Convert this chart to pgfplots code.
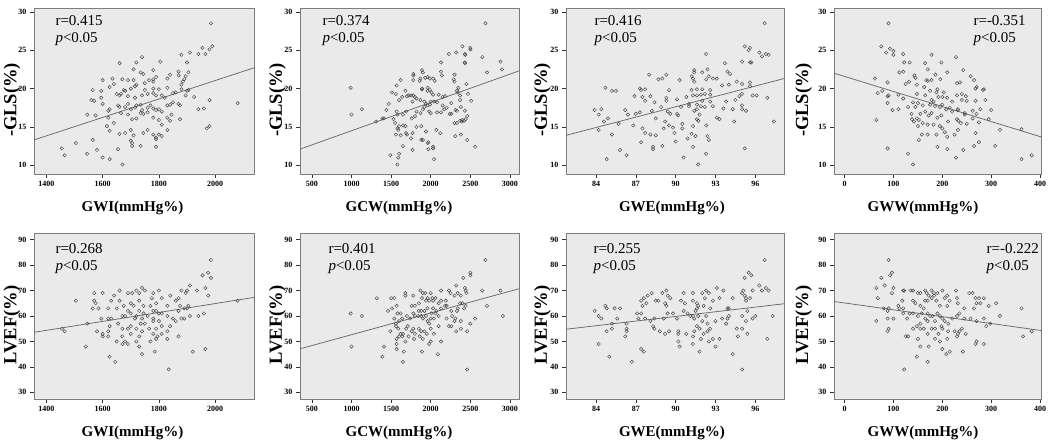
\documentclass[border=0pt]{standalone}
\usepackage{fontspec}
\setmainfont{Liberation Serif}
\usepackage{pgfplots}
\pgfplotsset{compat=1.18}
\definecolor{panelbg}{RGB}{234,234,234}
\definecolor{ptcol}{RGB}{70,70,70}
\definecolor{fitcol}{RGB}{105,105,105}
\definecolor{framecol}{RGB}{125,125,125}
\pgfplotsset{
  panel/.style={
    scale only axis, height=166pt,
    axis background/.style={fill=panelbg},
    axis line style={framecol, line width=0.8pt},
    xtick pos=bottom, ytick pos=left,
    tick align=outside, major tick length=4pt,
    tick style={black!80, line width=0.6pt},
    ticklabel style={font=\bfseries\fontsize{8}{8}\selectfont},
    /pgf/number format/assume math mode=true,
    /pgf/number format/1000 sep={},
    every axis x label/.style={anchor=base, yshift=-38pt, font=\bfseries\fontsize{15}{15}\selectfont},
    every axis y label/.style={rotate=90, anchor=center, font=\bfseries\fontsize{18.5}{18.5}\selectfont},
  },
  gls/.style={ymin=8.86, ymax=30.5, ytick={10,15,20,25,30}, ylabel={-GLS(\%)}},
  lvef/.style={ymin=27.4, ymax=92.6, ytick={30,40,50,60,70,80,90}, ylabel={LVEF(\%)}},
  cA/.style={width=220pt, xmin=1356, xmax=2138, xtick={1400,1600,1800,2000}, xlabel={GWI(mmHg\%)},
    x label style={at={(axis description cs:0.448,0)}}, y label style={at={(axis description cs:-0.1,0.446)}}},
  cB/.style={width=219pt, xmin=350, xmax=3114, xtick={500,1000,1500,2000,2500,3000}, xlabel={GCW(mmHg\%)},
    x label style={at={(axis description cs:0.452,0)}}, y label style={at={(axis description cs:-0.103,0.446)}}},
  cC/.style={width=218pt, xmin=81.74, xmax=98.16, xtick={84,87,90,93,96}, xlabel={GWE(mmHg\%)},
    x label style={at={(axis description cs:0.486,0)}}, y label style={at={(axis description cs:-0.108,0.446)}}},
  cD/.style={width=207pt, xmin=-21.7, xmax=402, xtick={0,100,200,300,400}, xlabel={GWW(mmHg\%)},
    x label style={at={(axis description cs:0.43,0)}}, y label style={at={(axis description cs:-0.147,0.446)}}},
  pts/.style={only marks, mark=o, mark size=1.7pt, mark options={ptcol, line width=0.45pt}},
  fit/.style={fitcol, line width=0.75pt, no marks},
}
\newcommand{\ann}[4]{%
  \node[anchor=base west, font=\fontsize{15}{15}\selectfont, xshift=#1, yshift=#2] at (rel axis cs:0,1) {#3};
  \node[anchor=base west, font=\fontsize{15}{15}\selectfont, xshift=#1, yshift=#2-17pt] at (rel axis cs:0,1) {#4};}
\begin{document}
\begin{tikzpicture}
\path[use as bounding box] (0,0) rectangle (1056pt,446pt);
% ---------- Row 1 ----------
\begin{axis}[panel, gls, cA, at={(34pt,272pt)}, anchor=south west]
\addplot[pts] coordinates {
(1985,28.5)(1990,25.5)(1980,25.1)(1955,25.3)(1965,24.5)(1940,24.5)(1910,24.7)(1880,24.4)
(1740,24.1)(1720,23.4)(1660,23.3)(1805,23.5)(1900,23.4)
(1710,22.5)(1780,22.4)(1735,22.1)(1745,21.9)(1870,22.2)(1870,21.7)(1905,22.1)(1895,21.6)(1830,21.3)(1840,21.8)
(1600,21.1)(1635,21.3)(1670,21.2)(1690,21.1)(1710,21.1)(1720,20.5)(1750,20.7)(1765,21.1)(1780,21.2)(1790,21.5)(1780,20.9)(1885,20.9)(1890,21.2)
(1565,19.8)(1595,19.7)(1625,20.2)(1640,20.6)(1675,19.8)(1680,19.7)(1700,20.0)(1715,20.3)(1750,19.8)(1780,20.0)(1800,19.9)(1830,20.1)(1880,19.9)(1900,19.7)(1905,19.8)(1880,20.5)
(1560,18.5)(1570,18.4)(1600,18.0)(1595,18.8)(1650,19.3)(1665,19.3)(1660,19.1)(1690,19.0)(1715,18.8)(1740,19.1)(1760,19.3)(1780,19.4)(1790,19.1)(1810,19.1)(1820,18.8)(1850,19.4)(1860,19.5)(1895,19.1)(1925,18.9)(1980,18.5)(2080,18.1)
(1575,16.5)(1620,17.1)(1625,17.3)(1655,17.8)(1660,17.6)(1680,17.6)(1690,18.0)(1700,17.3)(1715,17.5)(1720,17.8)(1735,17.9)(1740,17.2)(1760,17.5)(1770,17.8)(1780,17.4)(1790,17.2)(1800,17.3)(1810,17.0)(1830,17.8)(1840,17.9)(1850,18.2)(1870,18.0)(1875,17.8)(1940,17.3)(1960,17.4)
(1545,16.6)(1620,16.2)(1640,15.5)(1665,16.8)(1690,16.6)(1705,16.0)(1720,16.1)(1735,16.8)(1745,16.7)(1760,16.9)(1780,16.2)(1800,15.9)(1810,15.3)(1830,16.2)(1840,15.8)(1845,16.6)(1875,16.0)
(1615,15.1)(1625,14.5)(1660,14.1)(1680,14.2)(1700,14.6)(1710,13.9)(1745,14.2)(1760,14.6)(1780,14.0)(1790,13.4)(1790,13.6)(1800,14.0)(1810,13.8)(1830,14.6)(1970,14.8)(1980,15.1)
(1565,13.3)(1700,13.2)(1705,12.9)(1705,12.5)(1735,12.5)(1790,12.4)(1580,12.0)(1655,12.1)(1455,12.2)(1465,11.3)(1505,12.9)(1545,11.5)(1600,11.0)(1625,10.8)(1670,10.1)
};
\addplot[fit] coordinates {(1356,13.3)(2138,22.7)};
\ann{18pt}{-18pt}{r=0.415}{\textit{p}<0.05}
\end{axis}
\begin{axis}[panel, gls, cB, at={(300pt,272pt)}, anchor=south west]
\addplot[pts] coordinates {
(2690,28.5)(2400,25.5)(2500,25.3)(2500,25.1)(2430,24.5)(2435,24.4)(2230,24.5)(2320,24.7)(2650,24.1)
(2430,23.4)(2430,23.3)(2130,23.4)(2880,23.5)(2900,22.5)(2710,22.1)
(1890,22.4)(1900,22.1)(1780,21.9)(1780,21.7)(1780,21.1)(1620,21.1)(1860,21.0)(1870,21.3)(1930,21.4)(1960,21.5)(1990,21.3)(2030,21.3)(2050,21.0)(2130,22.2)(2140,21.7)(2300,21.8)(2290,21.2)(2300,20.9)(2450,20.6)(2350,20.1)
(990,20.1)(1570,20.4)(1510,19.5)(1560,19.3)(1680,19.7)(1720,19.1)(1750,19.1)(1780,19.1)(1800,18.9)(1890,20.0)(1890,19.9)(1960,20.1)(1960,19.7)(1990,19.8)(2010,19.5)(2030,19.2)(2100,19.2)(2180,19.0)(2340,19.5)(2370,19.1)(2470,19.3)(2330,19.7)
(1470,18.0)(1600,18.5)(1640,18.9)(1700,19.0)(1770,18.3)(1820,18.7)(1870,18.5)(1920,18.3)(1940,18.0)(1960,17.8)(1990,17.9)(2000,18.3)(2040,18.3)(2080,18.2)(2150,18.9)(2150,17.8)(2200,17.5)(2260,18.1)(2370,18.5)(2380,17.6)(2430,17.1)(2510,18.4)
(1000,16.6)(1130,17.3)(1390,16.1)(1410,16.1)(1440,17.2)(1570,17.0)(1580,16.6)(1650,16.6)(1690,17.0)(1760,16.1)(1800,16.4)(1820,17.0)(1870,16.8)(1900,17.3)(1920,17.6)(1980,17.0)(2000,16.8)(2080,16.9)(2130,16.9)(2170,17.3)(2240,16.7)(2260,16.7)(2310,17.2)(2330,17.1)(2460,16.4)(2300,15.5)
(1310,15.7)(1530,16.0)(1550,15.5)(1580,14.8)(1590,14.6)(1600,15.1)(1650,15.2)(1680,15.1)(1690,14.2)(1770,14.2)(1820,15.0)(1880,15.1)(1940,14.4)(2070,14.6)(2120,14.2)(2330,15.5)(2390,15.7)(2420,15.8)(2440,16.0)(2400,15.9)(2370,15.8)
(1560,14.0)(1620,13.9)(1700,14.0)(1750,13.5)(1880,13.3)(1900,13.3)(1960,12.9)(1970,13.0)(2030,12.4)(2030,12.2)(1970,12.1)(1650,12.5)(1770,12.0)(2310,13.8)(2380,14.0)(2460,13.3)(2560,12.4)
(1490,11.3)(1600,11.5)(1590,11.0)(1580,10.1)(2040,10.8)
};
\addplot[fit] coordinates {(350,12.1)(3114,22.3)};
\ann{19pt}{-18pt}{r=0.374}{\textit{p}<0.05}
\end{axis}
\begin{axis}[panel, gls, cC, at={(566pt,272pt)}, anchor=south west]
\addplot[pts] coordinates {
(96.7,28.5)(95.2,25.5)(95.6,25.3)(95.5,25.0)(96.3,24.7)(96.5,24.2)(96.8,24.5)(97.0,24.4)(95.0,23.5)(95.6,23.4)(95.7,23.4)(93.7,23.3)(92.3,24.5)
(92.4,22.5)(91.4,22.4)(91.4,22.1)(92.0,22.1)(93.9,22.2)(94.1,21.9)(88.0,21.8)(89.3,21.8)(88.7,21.2)(89.0,21.3)(90.3,21.1)(91.2,21.6)(91.3,21.3)(91.4,20.9)(92.8,21.3)(93.1,21.3)(92.5,21.6)(92.3,21.2)
(84.7,20.1)(85.2,19.7)(85.5,19.7)(87.3,20.0)(87.4,19.8)(87.7,19.9)(89.5,19.8)(91.2,19.8)(91.6,19.9)(92.0,19.9)(92.6,19.8)(94.0,20.5)(94.6,20.9)(95.0,20.6)(95.6,20.8)(95.6,20.3)(93.5,20.4)
(86.9,19.0)(87.5,18.9)(88.1,19.0)(89.3,18.8)(89.3,18.4)(90.1,18.6)(90.8,18.9)(91.3,19.1)(91.6,19.1)(91.9,19.2)(92.2,19.3)(92.6,19.2)(92.6,18.3)(93.8,18.3)(94.8,19.0)(95.0,19.3)(95.8,19.1)(96.1,19.1)(96.9,18.8)(87.7,18.4)(88.4,18.2)(91.0,18.0)(91.6,17.9)(92.0,18.4)(92.8,17.7)
(83.9,17.2)(84.4,17.3)(84.2,16.6)(86.2,17.2)(86.4,16.6)(87.0,16.7)(87.3,16.9)(88.2,17.1)(88.5,16.1)(88.9,17.6)(89.4,17.0)(89.6,16.7)(90.1,16.7)(90.2,16.5)(90.4,17.6)(91.0,17.7)(91.4,17.1)(91.6,17.3)(91.9,17.7)(92.2,17.6)(93.6,17.4)(94.3,17.3)(94.5,18.5)(95.0,17.3)(95.3,17.1)(95.0,17.8)
(84.2,14.6)(84.6,15.7)(84.9,16.1)(85.7,15.4)(86.8,15.2)(87.5,14.8)(87.7,14.2)(89.1,14.8)(89.2,15.7)(89.8,14.9)(90.5,14.8)(90.5,15.4)(91.3,15.1)(91.6,16.0)(91.7,15.8)(92.3,15.2)(93.1,16.2)(93.3,16.0)(94.4,15.7)(97.4,15.7)(89.5,15.2)(91.8,16.6)
(85.2,14.0)(87.4,13.0)(88.1,14.0)(88.5,13.9)(88.3,12.4)(89.0,12.5)(89.9,14.2)(90.0,13.1)(90.9,13.5)(91.2,14.1)(91.5,13.8)(92.4,13.8)(92.5,13.3)(91.3,12.4)(95.2,12.2)
(84.8,10.8)(85.8,12.0)(86.3,11.3)(88.3,12.1)(90.6,11.0)(92.3,11.5)(91.7,10.1)
};
\addplot[fit] coordinates {(81.74,13.9)(98.16,21.3)};
\ann{25pt}{-18pt}{r=0.416}{\textit{p}<0.05}
\end{axis}
\begin{axis}[panel, gls, cD, at={(834pt,272pt)}, anchor=south west]
\addplot[pts] coordinates {
(90,28.5)(75,25.5)(93,25.2)(100,24.9)(85,24.7)(100,24.4)(120,24.5)(178,24.4)(228,24.1)(133,23.4)(122,23.4)(165,23.3)(198,23.4)
(112,22.1)(120,22.2)(170,22.5)(243,22.4)(210,22.1)(258,21.6)(143,21.7)(145,21.4)(186,21.8)(196,21.2)(178,21.1)(170,21.0)(167,21.1)(132,20.9)(148,20.5)(88,20.8)(62,21.3)(265,21.1)(230,20.7)(236,20.8)
(77,19.7)(68,19.4)(90,19.1)(88,19.0)(110,19.2)(125,20.6)(163,20.2)(175,19.7)(190,19.9)(188,19.5)(203,19.5)(230,19.1)(248,19.0)(268,20.0)(270,20.2)(283,19.8)(285,19.9)(240,19.3)
(120,18.7)(140,18.2)(148,19.3)(150,18.1)(165,19.1)(178,18.5)(182,18.3)(192,18.9)(200,18.9)(210,18.8)(220,18.3)(240,18.5)(250,18.4)(268,18.4)(288,18.5)(88,18.1)(110,17.3)(130,17.6)(145,17.6)(160,17.8)(175,17.9)(185,17.7)(195,17.6)(200,17.9)(215,17.5)(232,17.2)(232,17.3)(262,17.1)(278,17.3)
(98,17.2)(137,16.7)(148,16.1)(155,16.7)(165,17.0)(172,16.5)(178,16.8)(190,16.2)(198,16.5)(208,17.3)(220,17.0)(246,16.6)(246,16.8)(270,16.7)(295,16.0)(300,17.2)
(65,15.9)(138,16.0)(142,15.7)(152,15.9)(160,15.5)(170,15.3)(182,15.3)(195,15.1)(212,15.7)(230,16.0)(233,15.8)(238,15.5)(250,15.4)(262,16.1)(275,15.6)(318,14.6)(362,14.7)
(150,15.1)(158,14.0)(170,14.0)(188,14.0)(200,14.8)(205,14.3)(225,14.0)(232,14.6)(268,14.2)(275,13.0)(210,13.7)(152,13.3)
(88,12.2)(190,12.4)(210,12.1)(243,12.0)(265,12.5)(308,12.5)(130,11.5)(228,11.0)(140,10.1)(362,10.8)(383,11.3)
};
\addplot[fit] coordinates {(-21.7,22.0)(402,13.7)};
\ann{136pt}{-18pt}{r=-0.351}{\textit{p}<0.05}
\end{axis}
% ---------- Row 2 ----------
\begin{axis}[panel, lvef, cA, at={(34pt,47pt)}, anchor=south west]
\addplot[pts] coordinates {
(1985,82)(1975,77)(1955,76)(1985,75)(1965,71)(1910,72)(1935,70)(1975,68)
(1505,66)(1570,69)(1600,69)(1640,68)(1660,70)(1690,69)(1705,69)(1720,70)(1730,69)(1740,71)(1750,70)(1780,69)(1800,70)(1775,67)(1810,67)(1840,68)(1870,67)(1880,70)(1895,69)(1900,70)(1570,66)(1620,63)(1630,66)(1660,66)(1675,64)(1700,65)(1710,64)(1730,66)(1745,64)(1770,64)(1790,65)(1830,64)(1860,66)(1875,64)(1890,63)(1905,64)
(1565,63)(1575,65)(1585,63)(1620,59)(1650,63)(1670,60)(1690,62)(1700,61)(1720,60)(1730,62)(1745,61)(1760,60)(1780,62)(1790,62)(1800,61)(1810,61)(1830,60)(1850,59)(1870,62)(1890,59)(1900,63)(1910,60)(1940,60)(1960,61)(1595,59)(1630,59)(1680,60)(1740,59)(1780,59)
(1545,57)(1580,54)(1600,53)(1620,54)(1625,56)(1655,57)(1670,55)(1690,55)(1700,56)(1715,59)(1720,55)(1735,57)(1750,57)(1765,55)(1780,58)(1790,55)(1800,58)(1810,56)(1830,54)(1840,56)(1860,58)(1880,59)(1455,55)(1465,54)(1600,52)(1620,52)(1670,52)(1700,53)(1730,52)(1780,53)(1795,52)(1830,51)(1870,52)
(1650,50)(1670,49)(1680,50)(1690,49)(1720,50)(1740,54)(1770,50)(1790,51)(1810,53)
(1540,48)(1730,48)(1785,46)(1740,45)(1625,44)(1645,42)(1920,46)(1965,47)(1835,39)(2080,66)
};
\addplot[fit] coordinates {(1356,53.6)(2138,67.3)};
\ann{18pt}{-21pt}{r=0.268}{\textit{p}<0.05}
\end{axis}
\begin{axis}[panel, lvef, cB, at={(300pt,47pt)}, anchor=south west]
\addplot[pts] coordinates {
(2690,82)(2500,77)(2500,76)(2410,75)(2320,72)(2430,71)(2440,70)(2450,69)(2880,70)(2650,70)(2230,70)(2130,70)(1870,70)(1680,69)(1900,69)(1930,69)(2000,69)(2250,69)(2340,69)
(1320,67)(1500,67)(1540,67)(1680,68)(1780,68)(1890,67)(1960,67)(2020,67)(2060,67)(2130,66)(2190,66)(2300,68)(2380,68)(2710,64)(1850,65)(1940,66)(1980,66)(2030,66)(2100,65)(2200,64)(2370,65)(2400,65)(2440,64)
(990,61)(1130,60)(1460,62)(1510,63)(1570,64)(1580,61)(1620,61)(1760,64)(1800,64)(1850,62)(1880,62)(1920,62)(1960,63)(2010,61)(2030,63)(2070,62)(2130,63)(2180,64)(2260,62)(2270,60)(2310,59)(2330,62)(2340,63)(2420,63)(2910,60)(2560,59)
(1540,59)(1560,57)(1600,58)(1640,59)(1700,60)(1740,59)(1780,61)(1800,60)(1840,60)(1880,60)(1900,59)(1940,60)(1960,58)(1980,57)(2000,59)(2040,59)(2060,61)(2100,60)(2200,59)(2300,58)(2380,58)
(1490,54)(1560,56)(1590,55)(1620,53)(1650,53)(1690,55)(1710,56)(1760,54)(1780,55)(1800,53)(1850,55)(1880,54)(1920,54)(1950,53)(2000,55)(2040,53)(2100,56)(2230,56)(2260,56)(2320,54)(2380,55)(2460,54)(2500,57)
(1000,48)(1570,51)(1570,49)(1600,52)(1640,52)(1680,50)(1720,52)(1790,51)(1860,52)(1900,51)(1980,49)(2000,50)(2130,50)(1410,48)(1570,47)(1660,46)(1890,46)(2090,45)(1390,44)(1650,42)(2460,39)
};
\addplot[fit] coordinates {(350,47.1)(3114,70.7)};
\ann{25pt}{-21pt}{r=0.401}{\textit{p}<0.05}
\end{axis}
\begin{axis}[panel, lvef, cC, at={(566pt,47pt)}, anchor=south west]
\addplot[pts] coordinates {
(96.7,82)(95.5,77)(95.7,76)(95.2,75)(96.3,72)(96.8,71)(97.0,70)(96.5,70)(95.1,70)(95.8,70)(95.0,69)(93.1,71)(93.6,70)(92.3,70)(92.0,69)(92.5,69)(91.3,69)(90.6,69)(89.3,70)(89.0,69)(88.2,69)(87.9,68)(87.6,67)(87.4,66)
(89.4,68)(89.6,67)(88.5,66)(88.7,66)(89.2,65)(89.3,64)(90.4,66)(90.7,65)(91.3,66)(91.6,65)(91.7,64)(92.1,64)(92.8,66)(92.2,67)(93.3,67)(94.3,67)(95.2,68)(95.3,66)(95.3,67)(87.5,64)(87.8,65)(84.7,64)(84.8,63)(85.4,63)(85.8,63)(93.9,63)(94.0,63)(95.6,67)
(83.9,62)(84.2,60)(84.4,59)(85.6,59)(86.3,57)(87.1,61)(87.4,61)(87.2,59)(87.7,59)(88.1,58)(88.4,59)(89.1,59)(89.4,61)(89.8,61)(90.1,59)(90.6,62)(90.9,61)(91.1,60)(91.3,60)(91.4,59)(91.5,62)(91.6,63)(91.7,60)(92.0,58)(92.3,60)(92.6,63)(93.0,58)(93.5,59)(93.9,59)(94.0,60)(95.0,60)(95.4,62)(95.8,59)(96.0,60)(97.3,60)(95.3,58)
(85.2,57)(85.2,55)(84.8,54)(86.3,54)(86.3,55)(86.2,52)(88.3,56)(88.4,55)(88.8,54)(89.2,53)(89.5,54)(90.2,54)(90.2,53)(90.8,53)(91.3,52)(91.4,54)(91.6,56)(91.8,55)(92.1,53)(92.4,54)(92.4,57)(92.6,55)(92.8,51)(92.5,50)(93.3,51)(93.8,57)(94.6,55)(95.0,55)(95.4,53)(96.9,51)(90.2,50)(90.3,48)(91.9,51)(93.0,48)(91.3,49)
(84.2,49)(85.0,44)(87.4,47)(87.6,46)(86.7,42)(91.8,46)(94.3,45)(94.7,52)(95.0,39)
};
\addplot[fit] coordinates {(81.74,54.8)(98.16,64.8)};
\ann{24pt}{-21pt}{r=0.255}{\textit{p}<0.05}
\end{axis}
\begin{axis}[panel, lvef, cD, at={(834pt,47pt)}, anchor=south west]
\addplot[pts] coordinates {
(90,82)(97,77)(93,76)(75,75)(82,72)(65,71)(100,71)(97,69)(68,67)(120,70)(122,70)(135,70)(140,70)(150,69)(155,69)(165,70)(168,69)(172,68)(178,70)(183,69)(190,69)(200,70)(210,68)(228,70)(262,69)(268,67)(275,67)(285,67)(310,65)(255,69)
(118,66)(110,64)(112,63)(120,63)(140,66)(145,65)(155,64)(162,63)(165,66)(170,66)(178,67)(183,68)(188,66)(195,64)(205,67)(215,66)(210,64)(230,67)(232,65)(245,63)(265,63)(270,65)(278,65)(295,64)(362,63)(80,63)(88,62)(90,63)
(65,58)(88,59)(100,59)(120,61)(128,59)(133,61)(140,61)(150,60)(158,61)(165,59)(170,61)(175,60)(180,60)(185,58)(190,61)(195,60)(200,59)(205,58)(212,57)(220,59)(230,60)(235,61)(245,59)(258,59)(270,58)(285,59)(298,57)(318,60)(155,57)(170,58)
(88,54)(90,55)(140,55)(148,56)(155,55)(162,55)(170,53)(178,55)(185,55)(192,53)(198,56)(200,55)(212,54)(225,54)(232,53)(235,54)(240,55)(248,53)(290,56)(383,54)(125,52)(130,52)(150,51)(185,51)(195,50)(210,51)(230,52)(270,50)(268,49)(285,49)(365,52)
(155,48)(172,48)(200,47)(208,45)(215,46)(242,46)(148,44)(170,42)(122,39)
};
\addplot[fit] coordinates {(-21.7,65.7)(402,54.3)};
\ann{149pt}{-21pt}{r=-0.222}{\textit{p}<0.05}
\end{axis}
\end{tikzpicture}
\end{document}
